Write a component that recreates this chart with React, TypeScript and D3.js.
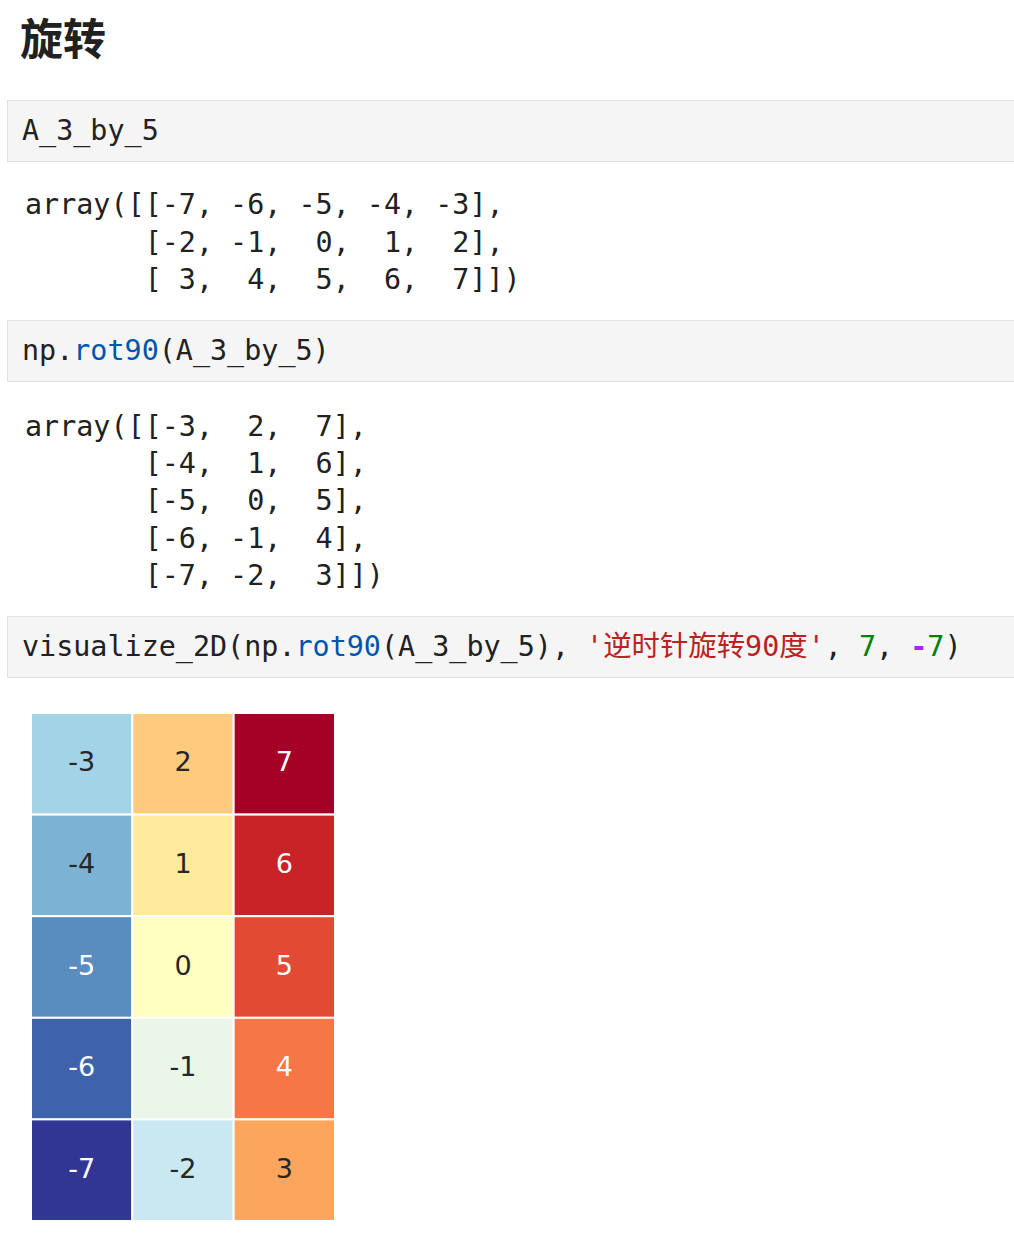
import React from "react";
import * as d3 from "d3";

const title = "旋转";
const cell1Code = "A_3_by_5";
const output1Lines = [
  "array([[-7, -6, -5, -4, -3],",
  "       [-2, -1,  0,  1,  2],",
  "       [ 3,  4,  5,  6,  7]])",
];
const output2Lines = [
  "array([[-3,  2,  7],",
  "       [-4,  1,  6],",
  "       [-5,  0,  5],",
  "       [-6, -1,  4],",
  "       [-7, -2,  3]])",
];
const heatRows = [0, 1, 2, 3, 4];
const heatCols = [0, 1, 2];
const heatValues = [
  [-3, 2, 7],
  [-4, 1, 6],
  [-5, 0, 5],
  [-6, -1, 4],
  [-7, -2, 3],
];
const vmin = -7;
const vmax = 7;
// matplotlib RdYlBu_r control colours
const rdylbuR = [
  "#313695", "#4575b4", "#74add1", "#abd9e9", "#e0f3f8", "#ffffbf",
  "#fee090", "#fdae61", "#f46d43", "#d73027", "#a50026",
];

const MONO = "'DejaVu Sans Mono', 'Noto Sans CJK SC', monospace";

function luminance(c: string) {
  const rgb = d3.rgb(c);
  const f = (v: number) => {
    const s = v / 255;
    return s <= 0.03928 ? s / 12.92 : Math.pow((s + 0.055) / 1.055, 2.4);
  };
  return 0.2126 * f(rgb.r) + 0.7152 * f(rgb.g) + 0.0722 * f(rgb.b);
}

function CodeCell({ y, children }: { y: number; children: React.ReactNode }) {
  return (
    <g>
      <rect x={7.5} y={y + 0.5} width={1010} height={61} fill="#f5f5f5" stroke="#e0e0e0" strokeWidth={1} />
      <text x={22} y={y + 40} fontFamily={MONO} fontSize={28.4} fill="#212121" style={{ whiteSpace: "pre" }}>
        {children}
      </text>
    </g>
  );
}

export default function App() {
  const color = d3
    .scaleLinear<string>()
    .domain(d3.range(rdylbuR.length).map((i) => vmin + (i * (vmax - vmin)) / (rdylbuR.length - 1)))
    .range(rdylbuR)
    .interpolate(d3.interpolateRgb);

  const x = d3.scaleBand<number>().domain(heatCols).range([31, 335]);
  const y = d3.scaleBand<number>().domain(heatRows).range([713, 1221]);

  return (
    <svg
      width={1014}
      height={1256}
      style={{ position: "absolute", left: 0, top: 0, background: "#fff" }}
    >
      <rect width={1014} height={1256} fill="#fff" />
      <text x={20} y={55} fontFamily="'Noto Sans CJK SC', sans-serif" fontWeight={700} fontSize={43} fill="#212121">
        {title}
      </text>

      <CodeCell y={100}>{cell1Code}</CodeCell>

      {output1Lines.map((l, i) => (
        <text key={"o1" + i} x={25} y={214 + i * 37.5} fontFamily={MONO} fontSize={28.4} fill="#212121" style={{ whiteSpace: "pre" }}>
          {l}
        </text>
      ))}

      <CodeCell y={320}>
        <tspan>np.</tspan>
        <tspan fill="#0055aa">rot90</tspan>
        <tspan>(A_3_by_5)</tspan>
      </CodeCell>

      {output2Lines.map((l, i) => (
        <text key={"o2" + i} x={25} y={436 + i * 37.2} fontFamily={MONO} fontSize={28.4} fill="#212121" style={{ whiteSpace: "pre" }}>
          {l}
        </text>
      ))}

      <CodeCell y={616}>
        <tspan>visualize_2D(np.</tspan>
        <tspan fill="#0055aa">rot90</tspan>
        <tspan>(A_3_by_5), </tspan>
        <tspan fill="#ba2121">'逆时针旋转90度'</tspan>
        <tspan>, </tspan>
        <tspan fill="#008000">7</tspan>
        <tspan>, </tspan>
        <tspan fill="#aa22ff" fontWeight={700}>-</tspan>
        <tspan fill="#008000">7</tspan>
        <tspan>)</tspan>
      </CodeCell>

      <g>
        {heatValues.map((row, r) =>
          row.map((v, c) => {
            const fill = color(v);
            const textFill = luminance(fill) > 0.408 ? "#262626" : "#ffffff";
            const cx = (x(c) as number) + x.bandwidth() / 2;
            const cy = (y(r) as number) + y.bandwidth() / 2;
            return (
              <g key={`${r}-${c}`}>
                <rect
                  x={x(c)}
                  y={y(r)}
                  width={x.bandwidth()}
                  height={y.bandwidth()}
                  fill={fill}
                  stroke="#ffffff"
                  strokeWidth={2}
                />
                <text
                  x={cx}
                  y={cy - 2}
                  textAnchor="middle"
                  dominantBaseline="central"
                  fontFamily="'DejaVu Sans', sans-serif"
                  fontSize={27}
                  fill={textFill}
                >
                  {String(v)}
                </text>
              </g>
            );
          })
        )}
      </g>
    </svg>
  );
}
